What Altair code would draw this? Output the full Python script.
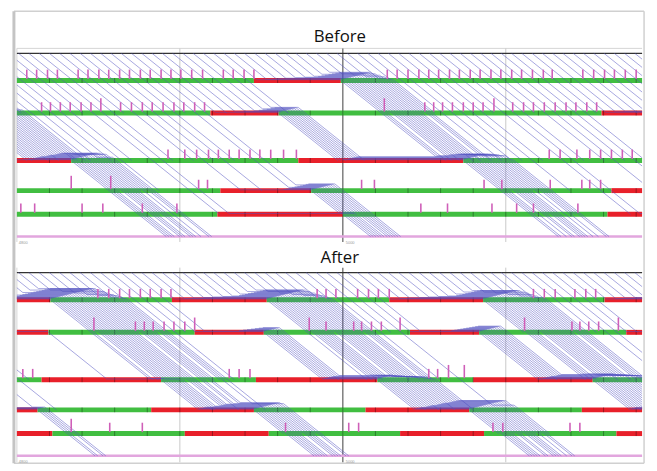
import altair as alt
import numpy as np
import pandas as pd

# ---------------- data ----------------
PANELS = ["Before", "After"]
PANEL_SHIFT = {"Before": 0.0, "After": 222.0}
# distance of: top entry line, 5 signalised intersections, exit line
ROW_DIST = [0.0, 27.5, 60.5, 108.5, 139.0, 163.0, 185.5]
T_END = 633.0
GRID_MINOR = [165, 495]
GRID_MAJOR = [330]
BAR_MARKS = [33 * k for k in range(1, 20)]

# signal phases per intersection: (state, start, end)
SIGNALS = {
    "Before": {
        1: [("G", -400, 240), ("R", 240, 328), ("G", 328, 700)],
        2: [("G", -400, -120), ("R", -120, -50), ("G", -50, 196), ("R", 196, 265), ("G", 265, 592), ("R", 592, 700)],
        3: [("G", -400, -65), ("R", -65, 55), ("G", 55, 285), ("R", 285, 452), ("G", 452, 700)],
        4: [("G", -400, 206), ("R", 206, 298), ("G", 298, 602), ("R", 602, 700)],
        5: [("G", -400, 203), ("R", 203, 330), ("G", 330, 598), ("R", 598, 700)],
    },
    "After": {
        1: [("G", -400, -60), ("R", -60, 34), ("G", 34, 157), ("R", 157, 253), ("G", 253, 377), ("R", 377, 472), ("G", 472, 595), ("R", 595, 700)],
        2: [("G", -400, -38), ("R", -38, 32), ("G", 32, 180), ("R", 180, 250), ("G", 250, 398), ("R", 398, 468), ("G", 468, 617), ("R", 617, 700)],
        3: [("G", -400, -194), ("R", -194, -71), ("G", -71, 25), ("R", 25, 146), ("G", 146, 242), ("R", 242, 365), ("G", 365, 462), ("R", 462, 583), ("G", 583, 700)],
        4: [("G", -400, -83), ("R", -83, 21), ("G", 21, 136), ("R", 136, 240), ("G", 240, 353), ("R", 353, 458), ("G", 458, 572), ("R", 572, 700)],
        5: [("G", -400, -50), ("R", -50, 36), ("G", 36, 170), ("R", 170, 255), ("G", 255, 388), ("R", 388, 473), ("G", 473, 607), ("R", 607, 700)],
    },
}

# pink markers above the stop bars (time), tall ones separately
PINK = {
    "Before": {
        1: [10, 20, 31, 41, 62, 72, 83, 93, 104, 114, 125, 135, 146, 156, 166, 177, 188, 209, 219, 230, 240,
            375, 385, 396, 407, 417, 427, 438, 448, 459, 469, 480, 490, 501, 511, 522, 533, 542, 573, 584, 595, 605, 616, 627],
        2: [25, 34, 44, 54, 65, 75, 105, 116, 127, 137, 148, 159, 169, 180, 190,
            413, 422, 431, 441, 452, 462, 472, 502, 513, 523, 534, 545, 556, 566, 577, 587],
        3: [153, 170, 182, 194, 204, 215, 225, 236, 246, 257, 270, 283, 539, 550, 567, 580, 591, 602, 613, 623],
        4: [184, 193, 349, 362, 473, 491, 540, 572, 580, 591],
        5: [4, 18, 66, 87, 127, 162, 409, 436, 481, 506, 523, 568],
    },
    "After": {
        1: [82, 93, 104, 114, 125, 135, 146, 156, 304, 313, 323, 345, 356, 366, 377, 523, 534, 545, 565, 576, 586],
        2: [120, 129, 138, 149, 159, 170, 313, 341, 349, 359, 369, 562, 570, 579, 589],
        3: [6, 16, 215, 225, 236, 417, 426],
        4: [],
        5: [94, 127, 272, 336, 346, 482, 492, 560, 570],
    },
}
PINK_TALL = {
    "Before": {1: [], 2: [85, 372, 483], 3: [], 4: [55, 95], 5: []},
    "After": {1: [], 2: [78, 180, 296, 388, 514, 609], 3: [437, 453], 4: [], 5: [55]},
}

# main-street vehicle stream (read from the hatch spacing / platoon density)
STREAM_START = -300.0
TOP_HEADWAY = 10.4
FREE_SLOPE = 0.8       # distance per time unit
SAT_HEADWAY = 2.7      # queue discharge headway
QUEUE_SPACING = 0.5
EXIT_PATTERN = [6, 3, 2, 3, 6, 3, 4, 3, 2, 5]

# side-street vehicles joining the queue at an intersection: (row, start, end, headway)
FEEDERS = {
    "Before": [(1, 305, 328, 3.5), (2, -90, -55, 2.5), (2, 245, 265, 4.0), (4, 270, 298, 2.8)],
    "After": [(1, 0, 34, 2.8), (1, 225, 253, 3.0), (1, 445, 472, 3.0), (2, 225, 250, 4.0), (2, 440, 468, 3.0)],
}
FEEDER_EXITS = [6, 6, 4, 6, 3, 6, 5, 6]


# ---------------- simulation of trajectories ----------------
def green_time(segs, t):
    for _ in range(20):
        hit = False
        for s, a, b in segs:
            if a <= t < b:
                hit = True
                if s == "R":
                    t = b
                    break
                return t
        if not hit:
            return t
    return t


def simulate(panel):
    segs = SIGNALS[panel]
    vehicles = []
    for i, t0 in enumerate(np.arange(STREAM_START, T_END + 40, TOP_HEADWAY)):
        vehicles.append({"id": f"{panel}-m{i}", "exit": EXIT_PATTERN[i % len(EXIT_PATTERN)],
                         "t": float(t0), "d": ROW_DIST[0], "path": [(float(t0), ROW_DIST[0])],
                         "alive": True, "node": 0, "pending": False})
    n = 0
    for (row, a, b, h) in FEEDERS[panel]:
        for t0 in np.arange(a, b, h):
            ex = FEEDER_EXITS[n % len(FEEDER_EXITS)]
            if ex <= row:
                ex = 6
            vehicles.append({"id": f"{panel}-f{n}", "exit": ex, "t": float(t0), "d": ROW_DIST[row],
                             "path": [], "alive": True, "node": row, "pending": True})
            n += 1
    for k in range(1, 7):
        dk = ROW_DIST[k]
        active = [v for v in vehicles if v["alive"] and
                  ((not v["pending"] and v["node"] == k - 1) or (v["pending"] and v["node"] == k))]
        for v in active:
            v["arr"] = v["t"] if v["pending"] else v["t"] + (dk - v["d"]) / FREE_SLOPE
        active.sort(key=lambda v: v["arr"])
        if k == 6:
            for v in active:
                v["path"].append((v["arr"], dk))
                v["alive"] = False
            continue
        deps = []
        last = -1e9
        for v in active:
            if v["exit"] == k and not v["pending"]:
                # turning vehicle leaves before the stop line, no queueing
                v["path"].append((v["arr"], dk))
                v["alive"] = False
                continue
            dep = green_time(segs[k], max(v["arr"], last + SAT_HEADWAY))
            q = sum(1 for x in deps if x > v["arr"])
            delayed = dep - v["arr"] > 0.5
            dq = dk - 0.8 - q * QUEUE_SPACING
            if v["pending"]:
                if delayed:
                    v["path"].append((v["arr"], dq))
                    t_leave = dep - (dk - dq) / FREE_SLOPE
                    if t_leave > v["arr"]:
                        v["path"].append((t_leave, dq))
            elif delayed:
                t_reach = v["t"] + (dq - v["d"]) / FREE_SLOPE
                t_leave = dep - (dk - dq) / FREE_SLOPE
                if t_leave > t_reach:
                    v["path"] += [(t_reach, dq), (t_leave, dq)]
            v["path"].append((dep, dk))
            v["t"], v["d"], v["node"], v["pending"] = dep, dk, k, False
            deps.append(dep)
            last = dep
            if v["exit"] == k:
                v["alive"] = False
    return vehicles


def clip(path, lo, hi):
    out = []
    for (t1, d1), (t2, d2) in zip(path[:-1], path[1:]):
        if t2 < lo or t1 > hi or t2 <= t1:
            continue
        a, b = max(t1, lo), min(t2, hi)
        f = lambda t: d1 + (d2 - d1) * (t - t1) / (t2 - t1)
        if not out:
            out.append((a, f(a)))
        out.append((b, f(b)))
    return out


traj_rows, bar_rows, mark_rows, pink_rows = [], [], [], []
for p in PANELS:
    sh = PANEL_SHIFT[p]
    for v in simulate(p):
        for j, (t, d) in enumerate(clip(v["path"], 0.0, T_END)):
            traj_rows.append({"vid": v["id"], "k": j, "t": t, "u": d + sh})
    for k in range(1, 6):
        u = ROW_DIST[k] + sh
        for s, a, b in SIGNALS[p][k]:
            a2, b2 = max(a, 0), min(b, T_END)
            if b2 > a2:
                bar_rows.append({"t": a2, "t2": b2, "u": u, "state": s})
        for m in BAR_MARKS:
            mark_rows.append({"t": m, "u": u - 2.5, "u2": u + 2.5})
        for t in PINK[p][k]:
            pink_rows.append({"t": t, "u": u - 1.5, "u2": u - 11})
        for t in PINK_TALL[p][k]:
            pink_rows.append({"t": t, "u": u - 1.5, "u2": u - 15})

traj = pd.DataFrame(traj_rows)
bars = pd.DataFrame(bar_rows)
marks = pd.DataFrame(mark_rows)
pinks = pd.DataFrame(pink_rows)

# frame / guide lines
grid_light = pd.DataFrame([{"t": g, "u": -5 + sh, "u2": 191 + sh if sh == 0 else 414} for sh in PANEL_SHIFT.values() for g in GRID_MINOR])
grid_dark = pd.DataFrame([{"t": g, "u": -5 + sh, "u2": 191 + sh if sh == 0 else 414} for sh in PANEL_SHIFT.values() for g in GRID_MAJOR])
top_lines = pd.DataFrame([{"t": 0, "t2": T_END, "u": ROW_DIST[0] + sh} for sh in PANEL_SHIFT.values()])
pink_lines = pd.DataFrame([{"t": 0, "t2": T_END, "u": ROW_DIST[6] + sh} for sh in PANEL_SHIFT.values()])
panel_edges = pd.DataFrame([
    {"t": 0, "t2": T_END, "u": -5, "u2": -5},
    {"t": 0, "t2": 0, "u": -5, "u2": 191},
    {"t": 0, "t2": 0, "u": 217, "u2": 414},
])
frame_thin = pd.DataFrame([
    {"t": -3, "t2": 635, "u": -42.5, "u2": -42.5},
    {"t": 635, "t2": 635, "u": -42.5, "u2": 415},
    {"t": -3, "t2": 635, "u": 415, "u2": 415},
])
frame_left = pd.DataFrame([{"t": -3, "t2": -3, "u": -42.5, "u2": 415}])
titles = pd.DataFrame([{"t": 327, "u": -11, "label": "Before"}, {"t": 327, "u": 212, "label": "After"}])
tiny = pd.DataFrame([{"t": 2, "u": 190, "label": "4800"}, {"t": 333, "u": 190, "label": "5000"},
                     {"t": 2, "u": 412, "label": "4800"}, {"t": 333, "u": 412, "label": "5000"}])

xs = alt.Scale(domain=[-9, 640], nice=False, zero=False)
ys = alt.Scale(domain=[-43, 420], nice=False, zero=False, reverse=True)
X = lambda f: alt.X(f, type="quantitative", scale=xs, axis=None)
Y = lambda f: alt.Y(f, type="quantitative", scale=ys, axis=None)


def rule_layer(df, color, width, opacity=1.0):
    enc = {"x": X("t"), "y": Y("u")}
    if "t2" in df.columns:
        enc["x2"] = alt.X2("t2")
    if "u2" in df.columns:
        enc["y2"] = alt.Y2("u2")
    return alt.Chart(df).mark_rule(color=color, strokeWidth=width, opacity=opacity).encode(**enc)


layers = [
    rule_layer(frame_thin, "#d0d0d0", 1.5),
    rule_layer(frame_left, "#c4c4c4", 3),
    rule_layer(panel_edges, "#d4d4d4", 1),
    rule_layer(grid_light, "#c8c8c8", 1),
    rule_layer(grid_dark, "#6a6a6a", 1.3),
    rule_layer(top_lines, "#333333", 1.2),
    rule_layer(pink_lines, "#e2a6de", 2.5),
    alt.Chart(bars).mark_rule(strokeWidth=5).encode(
        x=X("t"), x2=alt.X2("t2"), y=Y("u"),
        color=alt.Color("state:N", scale=alt.Scale(domain=["G", "R"], range=["#41be41", "#e8202a"]), legend=None)),
    rule_layer(marks, "#000000", 1, 0.35),
    alt.Chart(traj).mark_line(strokeWidth=0.6, color="#5050c0", opacity=0.85).encode(
        x=X("t"), y=Y("u"), detail="vid:N", order="k:Q"),
    rule_layer(pinks, "#cf5fb8", 1.6),
    alt.Chart(titles).mark_text(font="Open Sans", fontSize=17, color="#111111", baseline="alphabetic", align="center").encode(
        x=X("t"), y=Y("u"), text="label:N"),
    alt.Chart(tiny).mark_text(fontSize=4, color="#999999", align="left", baseline="top").encode(
        x=X("t"), y=Y("u"), text="label:N"),
]

chart = alt.layer(*layers).properties(
    width=649, height=463, padding=0, autosize=alt.AutoSizeParams(type="none")
).configure_view(stroke=None)

chart.save("out.html", embed_options={"renderer": "svg", "actions": False})
